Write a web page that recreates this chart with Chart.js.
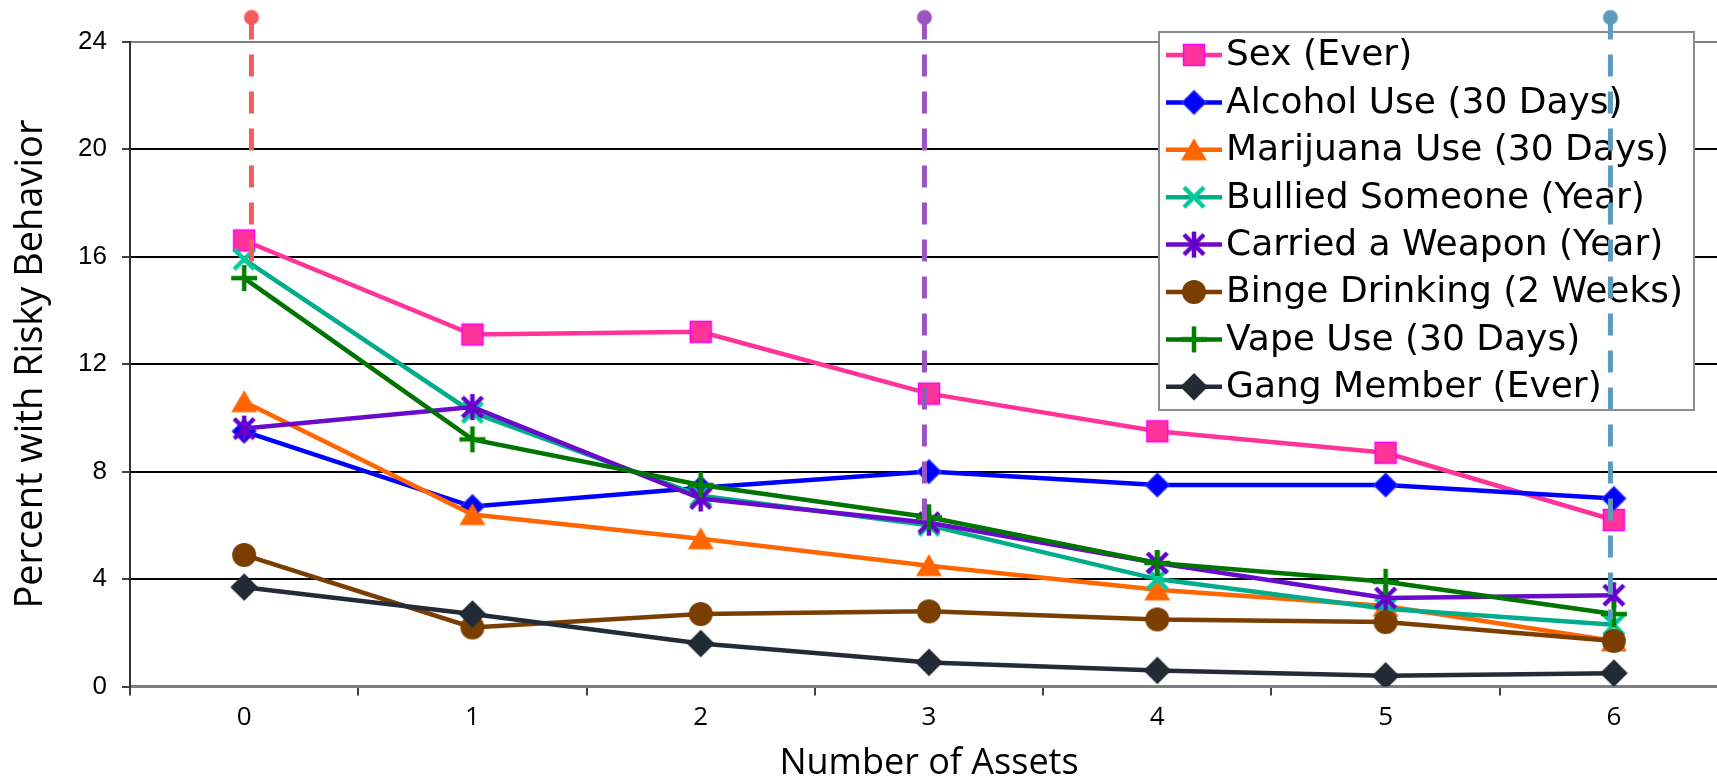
<!DOCTYPE html>
<html>
<head>
<meta charset="utf-8">
<script src="https://cdn.jsdelivr.net/npm/chart.js@4.4.1/dist/chart.umd.min.js"></script>
<style>
  html, body { margin: 0; padding: 0; background: #fff; overflow: hidden; width: 1717px; height: 779px; }
  canvas { display: block; }
</style>
</head>
<body>
<canvas id="chart" width="1728" height="779" style="width:1728px;height:779px"></canvas>
<script>
// Number of developmental assets (x categories)
const assetCounts = ['0', '1', '2', '3', '4', '5', '6'];

// Percent of youth reporting each risky behavior
const sexEver      = [16.6, 13.1, 13.2, 10.9, 9.5, 8.7, 6.2];
const alcohol30    = [9.5, 6.7, 7.4, 8.0, 7.5, 7.5, 7.0];
const marijuana30  = [10.6, 6.4, 5.5, 4.5, 3.6, 3.0, 1.7];
const bulliedYear  = [15.9, 10.2, 7.1, 6.0, 4.0, 2.9, 2.3];
const weaponYear   = [9.6, 10.4, 7.0, 6.1, 4.6, 3.3, 3.4];
const binge2Weeks  = [4.9, 2.2, 2.7, 2.8, 2.5, 2.4, 1.7];
const vape30       = [15.2, 9.2, 7.5, 6.3, 4.6, 3.9, 2.7];
const gangEver     = [3.7, 2.7, 1.6, 0.9, 0.6, 0.4, 0.5];

const seriesNames = [
  'Sex (Ever)', 'Alcohol Use (30 Days)', 'Marijuana Use (30 Days)', 'Bullied Someone (Year)',
  'Carried a Weapon (Year)', 'Binge Drinking (2 Weeks)', 'Vape Use (30 Days)', 'Gang Member (Ever)'
];

// Drop lines: position along the asset axis, top value, bottom value
const dropPositions = [0.032, 2.98, 5.985];
const dropTop       = [24.9, 24.9, 24.9];
const dropBottom    = [15.7, 6.1, 2.5];
const dropColors    = ['#F25D5D', '#9B55C0', '#5A9BBE'];

// Y axis tick values
const yTicks = [0, 4, 8, 12, 16, 20, 24];

// ---- marker sprites ----
function makeMarker(kind, fill, edge) {
  const c = document.createElement('canvas');
  c.width = 34; c.height = 34;
  const g = c.getContext('2d');
  const m = 17;
  g.lineJoin = 'miter';
  g.fillStyle = fill;
  g.strokeStyle = edge || fill;
  if (kind === 'square') {
    g.fillRect(m - 10.5, m - 10.5, 21, 21);
    g.lineWidth = 1.5;
    g.strokeRect(m - 10.5, m - 10.5, 21, 21);
  } else if (kind === 'diamond' || kind === 'bigDiamond') {
    const r = kind === 'bigDiamond' ? 13 : 12;
    g.beginPath();
    g.moveTo(m, m - r); g.lineTo(m + r, m); g.lineTo(m, m + r); g.lineTo(m - r, m); g.closePath();
    g.fill();
    g.lineWidth = 1.2; g.stroke();
  } else if (kind === 'triangle') {
    g.beginPath();
    g.moveTo(m, m - 11.5); g.lineTo(m + 13, m + 10.5); g.lineTo(m - 13, m + 10.5); g.closePath();
    g.fill();
  } else if (kind === 'circle') {
    g.beginPath(); g.arc(m, m, 12, 0, Math.PI * 2); g.fill();
  } else if (kind === 'x') {
    g.lineWidth = 4.5; g.lineCap = 'butt';
    g.beginPath();
    g.moveTo(m - 10, m - 10); g.lineTo(m + 10, m + 10);
    g.moveTo(m + 10, m - 10); g.lineTo(m - 10, m + 10);
    g.stroke();
  } else if (kind === 'star') {
    g.lineWidth = 4.5; g.lineCap = 'butt';
    g.beginPath();
    g.moveTo(m - 10, m - 10); g.lineTo(m + 10, m + 10);
    g.moveTo(m + 10, m - 10); g.lineTo(m - 10, m + 10);
    g.moveTo(m, m - 13); g.lineTo(m, m + 13);
    g.stroke();
  } else if (kind === 'plus') {
    g.lineWidth = 4.5; g.lineCap = 'butt';
    g.beginPath();
    g.moveTo(m - 13, m); g.lineTo(m + 13, m);
    g.moveTo(m, m - 13); g.lineTo(m, m + 13);
    g.stroke();
  } else if (kind === 'dot') {
    g.beginPath(); g.arc(m, m, 7.5, 0, Math.PI * 2); g.fill();
  }
  return c;
}

const seriesData = [sexEver, alcohol30, marijuana30, bulliedYear, weaponYear, binge2Weeks, vape30, gangEver];
const lineColors = ['#FF3399', '#0000FF', '#FF6600', '#00AC8A', '#6A0ACB', '#7A3E00', '#007400', '#232B37'];
const markers = [
  makeMarker('square', '#FF3399', '#FF00FF'),
  makeMarker('diamond', '#0000FF', '#3A3AFF'),
  makeMarker('triangle', '#FF6600'),
  makeMarker('x', '#00CC99'),
  makeMarker('star', '#6600CC'),
  makeMarker('circle', '#7A3E00'),
  makeMarker('plus', '#008000'),
  makeMarker('bigDiamond', '#222A36', '#222A36')
];

const datasets = seriesData.map((vals, i) => ({
  label: seriesNames[i],
  data: vals,
  borderColor: lineColors[i],
  backgroundColor: lineColors[i],
  borderWidth: 4.5,
  pointStyle: markers[i],
  pointRadius: 10,
  pointHoverRadius: 10,
  tension: 0,
  fill: false,
  order: seriesData.length - i
}));

const dotSprites = dropColors.map(c => makeMarker('dot', c));
dropPositions.forEach((pos, i) => {
  datasets.push({
    label: '',
    xAxisID: 'xDrop',
    data: [{ x: pos, y: dropTop[i] }, { x: pos, y: dropBottom[i] }],
    borderColor: dropColors[i],
    backgroundColor: dropColors[i],
    borderWidth: 5,
    borderDash: [22, 15],
    pointStyle: [dotSprites[i], false],
    // generous radius so the dot above the plot top is still painted
    pointRadius: [60, 0],
    pointBorderWidth: 0,
    clip: false,
    fill: false,
    order: 0
  });
});

// Boxed legend painted over the grid, beneath the data lines
const boxedLegend = {
  id: 'boxedLegend',
  beforeDatasetsDraw(chart) {
    const ctx = chart.ctx;
    const bx = 1159, by = 32, bw = 535, bh = 378;
    ctx.save();
    ctx.fillStyle = '#ffffff';
    ctx.fillRect(bx, by, bw, bh);
    ctx.strokeStyle = '#8C8C8C';
    ctx.lineWidth = 2;
    ctx.strokeRect(bx, by, bw, bh);
    ctx.font = '36px "DejaVu Sans"';
    ctx.textBaseline = 'middle';
    ctx.textAlign = 'left';
    seriesNames.forEach((name, i) => {
      const y = 55 + i * 47.4;
      ctx.strokeStyle = lineColors[i];
      ctx.lineWidth = 4.5;
      ctx.beginPath();
      ctx.moveTo(1166, y); ctx.lineTo(1222, y);
      ctx.stroke();
      const mk = markers[i];
      ctx.drawImage(mk, 1194 - mk.width / 2, y - mk.height / 2);
      ctx.fillStyle = '#000';
      ctx.fillText(name, 1226, y + 1);
    });
    ctx.restore();
  }
};

new Chart(document.getElementById('chart'), {
  type: 'line',
  data: { labels: assetCounts, datasets },
  plugins: [boxedLegend],
  options: {
    responsive: false,
    animation: false,
    devicePixelRatio: 1,
    layout: { autoPadding: false, padding: { top: 41.6, right: 0, bottom: 0, left: 0 } },
    plugins: { legend: { display: false }, tooltip: { enabled: false } },
    scales: {
      x: {
        type: 'category',
        offset: true,
        grid: {
          offset: true,
          drawOnChartArea: false,
          drawTicks: true,
          tickLength: 9,
          color: '#404040',
          lineWidth: 2
        },
        border: { display: true, color: '#7F7F7F', width: 2.5 },
        ticks: {
          color: '#000',
          padding: 6,
          font: { family: '"Open Sans"', size: 26 }
        },
        title: {
          display: true,
          text: 'Number of Assets',
          color: '#000',
          font: { family: '"Open Sans"', size: 36, lineHeight: 0.84 },
          padding: { top: 0, bottom: 0 }
        },
        afterFit(scale) { scale.height = 92.4; }
      },
      xDrop: {
        type: 'linear',
        display: false,
        position: 'bottom',
        min: -0.5,
        max: 6.5
      },
      y: {
        min: 0,
        max: 24,
        afterBuildTicks(scale) { scale.ticks = yTicks.map(v => ({ value: v })); },
        grid: {
          color: ctx => ctx.tick && ctx.tick.value === 24 ? '#808080' : (ctx.tick && ctx.tick.value === 0 ? '#7F7F7F' : '#000000'),
          lineWidth: 2,
          drawTicks: true,
          tickLength: 8,
          tickColor: '#404040'
        },
        border: { display: true, color: '#333333', width: 2 },
        ticks: {
          color: '#000',
          padding: 15,
          font: { family: '"Liberation Sans"', size: 26 }
        },
        title: {
          display: true,
          text: 'Percent with Risky Behavior',
          color: '#000',
          font: { family: '"Open Sans"', size: 38, lineHeight: 1.0 },
          padding: { top: 12, bottom: 0 }
        },
        afterFit(scale) { scale.width = 130; }
      }
    }
  }
});
</script>
</body>
</html>
